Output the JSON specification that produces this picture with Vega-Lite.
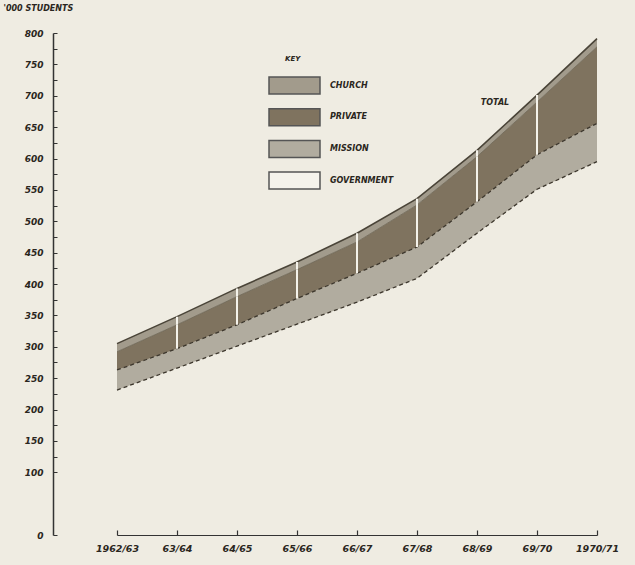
{
  "$schema": "https://vega.github.io/schema/vega-lite/v6.json",
  "autosize": {"type": "none"},
  "width": 480,
  "height": 502,
  "padding": {"left": 117, "top": 33, "right": 38, "bottom": 30},
  "background": "#efece2",
  "config": {
    "view": {"stroke": null},
    "font": "DejaVu Sans",
    "axis": {"labelFont": "DejaVu Sans", "labelFontStyle": "italic", "labelFontWeight": "bold", "labelColor": "#2a2620", "grid": false}
  },
  "data": {
    "values": [
      {"year": "1962/63", "category": "GOVERNMENT", "order": 1, "value": 231},
      {"year": "1962/63", "category": "MISSION", "order": 2, "value": 32},
      {"year": "1962/63", "category": "PRIVATE", "order": 3, "value": 29},
      {"year": "1962/63", "category": "CHURCH", "order": 4, "value": 13},
      {"year": "63/64", "category": "GOVERNMENT", "order": 1, "value": 266},
      {"year": "63/64", "category": "MISSION", "order": 2, "value": 31},
      {"year": "63/64", "category": "PRIVATE", "order": 3, "value": 38},
      {"year": "63/64", "category": "CHURCH", "order": 4, "value": 13},
      {"year": "64/65", "category": "GOVERNMENT", "order": 1, "value": 301},
      {"year": "64/65", "category": "MISSION", "order": 2, "value": 34},
      {"year": "64/65", "category": "PRIVATE", "order": 3, "value": 45},
      {"year": "64/65", "category": "CHURCH", "order": 4, "value": 13},
      {"year": "65/66", "category": "GOVERNMENT", "order": 1, "value": 336},
      {"year": "65/66", "category": "MISSION", "order": 2, "value": 41},
      {"year": "65/66", "category": "PRIVATE", "order": 3, "value": 46},
      {"year": "65/66", "category": "CHURCH", "order": 4, "value": 12},
      {"year": "66/67", "category": "GOVERNMENT", "order": 1, "value": 371},
      {"year": "66/67", "category": "MISSION", "order": 2, "value": 46},
      {"year": "66/67", "category": "PRIVATE", "order": 3, "value": 50},
      {"year": "66/67", "category": "CHURCH", "order": 4, "value": 14},
      {"year": "67/68", "category": "GOVERNMENT", "order": 1, "value": 409},
      {"year": "67/68", "category": "MISSION", "order": 2, "value": 50},
      {"year": "67/68", "category": "PRIVATE", "order": 3, "value": 67},
      {"year": "67/68", "category": "CHURCH", "order": 4, "value": 10},
      {"year": "68/69", "category": "GOVERNMENT", "order": 1, "value": 481},
      {"year": "68/69", "category": "MISSION", "order": 2, "value": 50},
      {"year": "68/69", "category": "PRIVATE", "order": 3, "value": 72},
      {"year": "68/69", "category": "CHURCH", "order": 4, "value": 10},
      {"year": "69/70", "category": "GOVERNMENT", "order": 1, "value": 551},
      {"year": "69/70", "category": "MISSION", "order": 2, "value": 55},
      {"year": "69/70", "category": "PRIVATE", "order": 3, "value": 84},
      {"year": "69/70", "category": "CHURCH", "order": 4, "value": 11},
      {"year": "1970/71", "category": "GOVERNMENT", "order": 1, "value": 595},
      {"year": "1970/71", "category": "MISSION", "order": 2, "value": 61},
      {"year": "1970/71", "category": "PRIVATE", "order": 3, "value": 122},
      {"year": "1970/71", "category": "CHURCH", "order": 4, "value": 13}
    ]
  },
  "transform": [
    {"stack": "value", "groupby": ["year"], "sort": [{"field": "order", "order": "ascending"}], "as": ["v0", "v1"]}
  ],
  "encoding": {
    "x": {
      "field": "year", "type": "ordinal", "sort": null,
      "scale": {"type": "point", "range": [0, 480], "padding": 0},
      "axis": {"title": null, "domain": true, "domainColor": "#333", "domainWidth": 1.2, "tickSize": -5, "tickColor": "#333", "tickWidth": 1.2, "labelAngle": 0, "labelPadding": 13, "labelFontSize": 9.5, "labelOverlap": false}
    },
    "y": {
      "field": "v1", "type": "quantitative",
      "scale": {"domain": [0, 800], "nice": false, "zero": true},
      "axis": {
        "offset": 64,
        "title": "'000 STUDENTS", "titleAngle": 0, "titleAlign": "left", "titleBaseline": "middle",
        "titleX": -50, "titleY": -25, "titleFont": "DejaVu Sans", "titleFontSize": 8, "titleFontStyle": "italic", "titleFontWeight": "bold", "titleColor": "#2a2620",
        "values": [0, 100, 125, 150, 175, 200, 225, 250, 275, 300, 325, 350, 375, 400, 425, 450, 475, 500, 525, 550, 575, 600, 625, 650, 675, 700, 725, 750, 775, 800],
        "labelExpr": "datum.value % 50 == 0 ? datum.label : ''",
        "labelOverlap": false, "labelBound": false,
        "domainColor": "#333", "domainWidth": 1.5, "tickSize": -4, "tickColor": "#333", "labelPadding": 14, "labelFontSize": 9
      }
    }
  },
  "layer": [
    {
      "transform": [{"filter": "datum.category != 'GOVERNMENT'"}],
      "mark": {"type": "area", "stroke": null, "opacity": 1},
      "encoding": {
        "y2": {"field": "v0"},
        "color": {
          "field": "category", "type": "nominal",
          "scale": {"domain": ["CHURCH", "PRIVATE", "MISSION", "GOVERNMENT"], "range": ["#a29b8c", "#7f735f", "#b1ac9f", "#f5f3ec"]},
          "legend": {
            "orient": "none", "legendX": 168, "legendY": 22, "padding": 0,
            "title": "KEY", "titleFont": "DejaVu Sans", "titleFontSize": 7, "titleFontStyle": "italic", "titleFontWeight": "bold", "titleColor": "#2a2620", "titlePadding": 14,
            "symbolType": "M-3,-1H3V1H-3Z", "symbolSize": 289, "symbolStrokeColor": "#555", "symbolStrokeWidth": 1.5, "symbolOpacity": 1,
            "rowPadding": 8.7, "labelOffset": 26, "labelFont": "DejaVu Sans", "labelFontSize": 8, "labelFontStyle": "italic", "labelFontWeight": "bold", "labelColor": "#2a2620"
          }
        },
        "order": {"field": "order"}
      }
    },
    {
      "transform": [{"filter": "datum.category == 'GOVERNMENT' || datum.category == 'MISSION'"}],
      "mark": {"type": "line", "strokeDash": [4, 3], "strokeWidth": 1.3, "color": "#3d372d"},
      "encoding": {"detail": {"field": "category"}}
    },
    {
      "transform": [{"filter": "datum.category == 'PRIVATE'"}],
      "mark": {"type": "line", "strokeWidth": 0.8, "color": "#6b6353"},
      "encoding": {}
    },
    {
      "transform": [{"filter": "datum.category == 'CHURCH'"}],
      "mark": {"type": "line", "strokeWidth": 1.6, "color": "#4a4438"},
      "encoding": {}
    },
    {
      "transform": [{"filter": "(datum.category == 'PRIVATE' || datum.category == 'CHURCH') && datum.year != '1962/63' && datum.year != '1970/71'"}],
      "mark": {"type": "rule", "color": "#f4f2ea", "strokeWidth": 2},
      "encoding": {"y2": {"field": "v0"}}
    },
    {
      "transform": [{"filter": "datum.category == 'CHURCH' && datum.year == '68/69'"}],
      "mark": {"type": "text", "font": "DejaVu Sans", "fontSize": 8, "fontStyle": "italic", "fontWeight": "bold", "color": "#2a2620", "dx": 18, "dy": -47},
      "encoding": {"text": {"value": "TOTAL"}}
    }
  ]
}
